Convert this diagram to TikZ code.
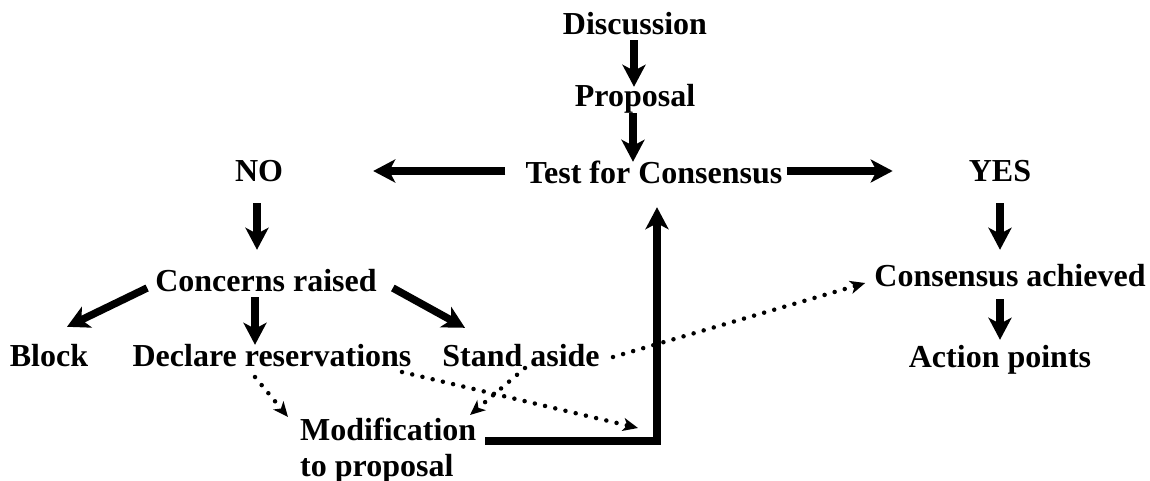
\documentclass[tikz,border=0pt]{standalone}
\usepackage{fontspec}
\setmainfont{Liberation Serif}
\usetikzlibrary{arrows.meta,calc}
\tikzset{
  lbl/.style={font=\fontsize{32}{36}\selectfont\bfseries, inner sep=0pt, text height=22pt, text depth=6pt, anchor=base},
  bigarr/.style={line width=7.5pt, line join=miter, -{Stealth[length=22pt,width=23pt,inset=6pt]}},
  dotarr/.style={line width=4.5pt, line cap=round, dash pattern=on 0pt off 10.5pt, -{Stealth[length=15pt,width=13pt,inset=4pt]}}
}
\begin{document}
\begin{tikzpicture}[x=1pt,y=-1pt]
\useasboundingbox (0,0) rectangle (1150,481);
% nodes
\node[lbl] (disc) at (635,35) {Discussion};
\node[lbl] (prop) at (635,107) {Proposal};
\node[lbl] (test) at (654,183) {Test for Consensus};
\node[lbl] (no) at (259,182) {NO};
\node[lbl] (yes) at (1000,182) {YES};
\node[lbl] (conc) at (266,291) {Concerns raised};
\node[lbl] (ca) at (1010,286) {Consensus achieved};
\node[lbl] (block) at (49,366) {Block};
\node[lbl] (decl) at (272,366) {Declare reservations};
\node[lbl] (stand) at (521,366) {Stand aside};
\node[lbl] (ap) at (1000,367) {Action points};
\node[font=\fontsize{32}{36}\selectfont\bfseries, inner sep=0pt, align=left, anchor=north west] (mod) at (300,418) {Modification\\to proposal};
\coordinate (corner) at (657,441);
% thick arrows
\draw[bigarr] ($(disc.south)+(-1,-1)$) -- ($(prop.north)+(-1,2)$);
\draw[bigarr] ($(prop.south)+(-2,0)$) -- ($(test.north -| prop.south)+(-2,1)$);
\draw[bigarr] ($(test.west)+(-20,-4)$) -- ($(no.east)+(90,-3)$);
\draw[bigarr] ($(test.east)+(4,-4)$) -- ($(yes.west)+(-76,-3)$);
\draw[bigarr] ($(no.south)+(-2,15)$) -- ($(conc.north)+(-9,-19)$);
\draw[bigarr] ($(yes.south)+(0,15)$) -- ($(ca.north)+(-10,-14)$);
\draw[bigarr] ($(ca.south)+(-10,7)$) -- ($(ap.north)+(0,-5)$);
\draw[bigarr] ($(conc.base west)+(-8,-3)$) -- ($(block.north)+(18,-17)$);
\draw[bigarr] ($(conc.south)+(-11,0)$) -- ($(decl.north)+(-17,1)$);
\draw[bigarr] ($(conc.base east)+(16,-3)$) -- ($(stand.north)+(-56,-16)$);
\draw[bigarr] ($(mod.north east)+(9,23)$) -- (corner) -- ($(corner |- test.south)+(0,18)$);
% dotted arrows
\draw[dotarr] ($(decl.base)+(-17,11)$) -- ($(mod.north west)+(-12,-1)$);
\draw[dotarr] ($(decl.base)+(130,6)$) -- ($(corner)+(-19,-13)$);
\draw[dotarr] ($(stand.base)+(4,2)$) -- ($(mod.north west)+(170,-3)$);
\draw[dotarr] ($(stand.base)+(92,-9)$) -- ($(ca.base west)+(-9,-3)$);
\end{tikzpicture}
\end{document}
